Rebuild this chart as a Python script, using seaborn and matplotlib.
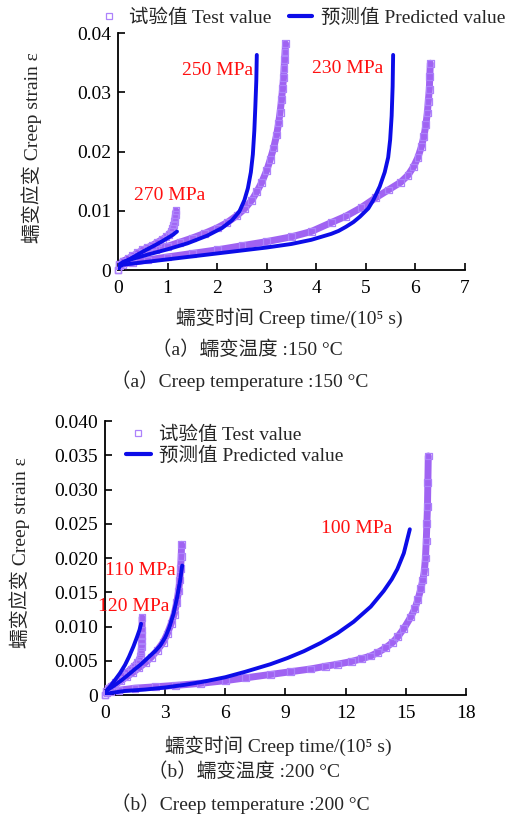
import matplotlib
matplotlib.use("Agg")
import matplotlib.pyplot as plt
from matplotlib.lines import Line2D
import seaborn as sns

# ---- data: 150 C (x in 1e5 s, creep strain) ----
t270_x = [0, 0.03, 0.1, 0.2, 0.3, 0.4, 0.5, 0.6, 0.7, 0.8, 0.9, 0.97, 1.03, 1.07, 1.1, 1.12, 1.14, 1.15, 1.16, 1.17]
t270_y = [0, 0.0009, 0.0014, 0.0019, 0.0024, 0.0029, 0.0034, 0.0038, 0.0042, 0.0047, 0.0052, 0.0056, 0.0060, 0.0065, 0.0070, 0.0076, 0.0082, 0.0088, 0.0094, 0.0100]
p270_x = [0, 0.03, 0.1, 0.25, 0.5, 0.75, 0.9, 1.0, 1.1, 1.19]
p270_y = [0, 0.0009, 0.0013, 0.0019, 0.0031, 0.0042, 0.0049, 0.0054, 0.0059, 0.0065]

t250_x = [0, 0.03, 0.1, 0.3, 0.5, 0.75, 1.0, 1.25, 1.5, 1.75, 2.0, 2.2, 2.4, 2.55, 2.7, 2.8, 2.9, 3.0, 3.07, 3.14,
          3.2, 3.24, 3.27, 3.3, 3.32, 3.34, 3.35, 3.36, 3.37, 3.38]
t250_y = [0, 0.001, 0.0015, 0.0022, 0.0028, 0.0034, 0.0040, 0.0047, 0.0054, 0.0062, 0.0071, 0.0080, 0.0092, 0.0103,
          0.0118, 0.0132, 0.0148, 0.0168, 0.0186, 0.0206, 0.0228, 0.0248, 0.0266, 0.0288, 0.0306, 0.0325, 0.034,
          0.0355, 0.0368, 0.0382]
p250_x = [0, 0.03, 0.1, 0.3, 0.6, 1.0, 1.4, 1.8, 2.1, 2.3, 2.45, 2.55, 2.62, 2.68, 2.72, 2.75, 2.77, 2.79, 2.8]
p250_y = [0, 0.0009, 0.0013, 0.0019, 0.0026, 0.0035, 0.0045, 0.0058, 0.0071, 0.0084, 0.0099, 0.0118, 0.0138, 0.0165,
          0.0195, 0.0235, 0.0275, 0.032, 0.0363]

t230_x = [0, 0.03, 0.1, 0.3, 0.6, 1.0, 1.5, 2.0, 2.5, 3.0, 3.5, 3.9, 4.3, 4.6, 4.9, 5.2, 5.45, 5.7, 5.85, 5.96,
          6.05, 6.12, 6.17, 6.21, 6.24, 6.26, 6.28, 6.29, 6.3]
t230_y = [0, 0.0007, 0.0010, 0.0013, 0.0017, 0.0022, 0.0028, 0.0034, 0.0041, 0.0048, 0.0056, 0.0065, 0.0080, 0.0091,
          0.0105, 0.0122, 0.0135, 0.0148, 0.016, 0.0174, 0.019, 0.0208, 0.0225, 0.0245, 0.0265, 0.0285, 0.0305,
          0.0327, 0.0349]
p230_x = [0, 0.03, 0.1, 0.3, 0.6, 1.0, 1.5, 2.0, 2.5, 3.0, 3.5, 3.9, 4.1, 4.3, 4.45, 4.6, 4.75, 4.88, 5.05, 5.15,
          5.28, 5.38, 5.45, 5.49, 5.52, 5.54, 5.55]
p230_y = [0, 0.0006, 0.0009, 0.0011, 0.0014, 0.0018, 0.0023, 0.0028, 0.0033, 0.0038, 0.0044, 0.0051, 0.0056, 0.0061,
          0.0066, 0.0073, 0.0081, 0.009, 0.0104, 0.0118, 0.0141, 0.0165, 0.019, 0.022, 0.026, 0.031, 0.0363]

# ---- data: 200 C ----
t120_x = [0, 0.05, 0.15, 0.3, 0.5, 0.7, 0.9, 1.1, 1.3, 1.45, 1.6, 1.7, 1.76, 1.8, 1.82, 1.83, 1.84, 1.85, 1.85]
t120_y = [0, 0.0005, 0.0009, 0.0013, 0.0018, 0.0023, 0.0028, 0.0033, 0.0038, 0.0042, 0.0047, 0.0051, 0.0056, 0.0063,
          0.0071, 0.0079, 0.0087, 0.0095, 0.0113]
p120_x = [0, 0.05, 0.15, 0.3, 0.5, 0.75, 1.0, 1.2, 1.42, 1.6, 1.72, 1.8]
p120_y = [0, 0.0005, 0.0009, 0.0014, 0.0022, 0.0032, 0.0044, 0.0056, 0.0071, 0.0085, 0.0095, 0.0104]

t110_x = [0, 0.05, 0.15, 0.3, 0.5, 0.8, 1.1, 1.4, 1.7, 2.0, 2.3, 2.6, 2.9, 3.1, 3.3, 3.45, 3.58, 3.67, 3.73, 3.77,
          3.8, 3.82]
t110_y = [0, 0.0005, 0.0008, 0.0011, 0.0015, 0.0021, 0.0027, 0.0033, 0.0040, 0.0047, 0.0055, 0.0065, 0.0077, 0.0089,
          0.0104, 0.0118, 0.0135, 0.0152, 0.0168, 0.0185, 0.0202, 0.0220]
p110_x = [0, 0.05, 0.15, 0.42, 0.8, 1.1, 1.42, 1.8, 2.2, 2.5, 2.75, 3.0, 3.2, 3.42, 3.6, 3.75, 3.85]
p110_y = [0, 0.0005, 0.0008, 0.0013, 0.0021, 0.0028, 0.0036, 0.0045, 0.0056, 0.0064, 0.0072, 0.0084, 0.0098, 0.0119,
          0.0143, 0.0168, 0.0189]

t100_x = [0, 0.1, 0.3, 0.7, 1.5, 2.5, 3.5, 4.75, 6.0, 7.0, 8.25, 9.25, 10.25, 11.0, 11.6, 12.3, 12.8, 13.25, 13.6,
          14.0, 14.35, 14.6, 14.9, 15.25, 15.45, 15.6, 15.75, 15.85, 15.92, 15.98, 16.02, 16.05, 16.08, 16.1, 16.12]
t100_y = [0, 0.0003, 0.0005, 0.0007, 0.0010, 0.0012, 0.0014, 0.0017, 0.0021, 0.0025, 0.0030, 0.0034, 0.0038, 0.0042,
          0.0045, 0.0049, 0.0053, 0.0057, 0.0062, 0.0069, 0.0077, 0.0085, 0.0097, 0.0114, 0.0126, 0.0139, 0.0155,
          0.0168, 0.0180, 0.020, 0.0225, 0.025, 0.0275, 0.031, 0.0349]
p100_x = [0, 0.05, 0.3, 1.0, 2.0, 3.0, 4.0, 5.0, 6.0, 7.0, 8.25, 9.1, 9.92, 10.75, 11.58, 12.4, 13.25, 13.9, 14.3,
          14.58, 14.9, 15.2]
p100_y = [0, 0.0001, 0.0003, 0.0006, 0.0008, 0.0011, 0.0015, 0.0020, 0.0026, 0.0034, 0.0045, 0.0054, 0.0064, 0.0076,
          0.0090, 0.0107, 0.0129, 0.0152, 0.0169, 0.0184, 0.0207, 0.0242]

# tick labels
top_xticks = [0, 1, 2, 3, 4, 5, 6, 7]
top_yticks = [0, 0.01, 0.02, 0.03, 0.04]
top_ylabels = ["0", "0.01", "0.02", "0.03", "0.04"]
bot_xticks = [0, 3, 6, 9, 12, 15, 18]
bot_yticks = [0, 0.005, 0.010, 0.015, 0.020, 0.025, 0.030, 0.035, 0.040]
bot_ylabels = ["0", "0.005", "0.010", "0.015", "0.020", "0.025", "0.030", "0.035", "0.040"]

BAND = "#8f48f0"
MARK = "#ad82fb"
BLUE = "#0c0ce8"
RED = "#ff1010"
FS = 14

sns.set_theme(style="ticks")
plt.rcParams["font.family"] = ["Liberation Serif", "Noto Sans CJK SC", "DejaVu Sans"]
plt.rcParams["axes.unicode_minus"] = False

fig = plt.figure(figsize=(5.06, 8.23), dpi=100)
ax1 = fig.add_axes([0.2332, 0.6719, 0.6858, 0.2880])
ax2 = fig.add_axes([0.2075, 0.1555, 0.7134, 0.3329])


def draw_test(ax, x, y):
    sns.lineplot(x=x, y=y, sort=False, estimator=None, color=BAND, lw=5, alpha=0.85, ax=ax, legend=False, zorder=2)
    sns.scatterplot(x=x, y=y, marker="s", s=24, facecolor="none", edgecolor=MARK, linewidth=0.9,
                    ax=ax, legend=False, zorder=3, clip_on=False)


def draw_pred(ax, x, y):
    sns.lineplot(x=x, y=y, sort=False, estimator=None, color=BLUE, lw=2.8, ax=ax, legend=False, zorder=4)


def style_axes(ax, xticks, yticks, ylabels):
    ax.set_xticks(xticks)
    ax.set_xticklabels([str(t) for t in xticks])
    ax.set_yticks(yticks)
    ax.set_yticklabels(ylabels)
    ax.set_xlim(xticks[0], xticks[-1])
    ax.set_ylim(yticks[0], yticks[-1])
    sns.despine(ax=ax)
    for s in ["left", "bottom"]:
        ax.spines[s].set_linewidth(1.3)
        ax.spines[s].set_color("black")
    ax.tick_params(direction="in", length=5, width=1.2, labelsize=FS, colors="black")
    ax.tick_params(axis="x", pad=7)
    ax.tick_params(axis="y", pad=5)


# top panel
for tx, ty in [(t270_x, t270_y), (t250_x, t250_y), (t230_x, t230_y)]:
    draw_test(ax1, tx, ty)
for px, py in [(p270_x, p270_y), (p250_x, p250_y), (p230_x, p230_y)]:
    draw_pred(ax1, px, py)
style_axes(ax1, top_xticks, top_yticks, top_ylabels)
ax1.text(2.0, 0.0336, "250 MPa", color=RED, fontsize=FS, ha="center", va="center")
ax1.text(4.64, 0.0340, "230 MPa", color=RED, fontsize=FS, ha="center", va="center")
ax1.text(1.04, 0.0125, "270 MPa", color=RED, fontsize=FS, ha="center", va="center")

# bottom panel
for tx, ty in [(t120_x, t120_y), (t110_x, t110_y), (t100_x, t100_y)]:
    draw_test(ax2, tx, ty)
for px, py in [(p120_x, p120_y), (p110_x, p110_y), (p100_x, p100_y)]:
    draw_pred(ax2, px, py)
style_axes(ax2, bot_xticks, bot_yticks, bot_ylabels)
ax2.text(12.56, 0.0243, "100 MPa", color=RED, fontsize=FS, ha="center", va="center", clip_on=False)
ax2.text(1.77, 0.01825, "110 MPa", color=RED, fontsize=FS, ha="center", va="center", clip_on=False)
ax2.text(1.42, 0.0129, "120 MPa", color=RED, fontsize=FS, ha="center", va="center", clip_on=False)

# legends
handles = [
    Line2D([], [], ls="", marker="s", ms=4.5, mfc="none", mec=MARK, mew=0.9),
    Line2D([], [], color=BLUE, lw=3),
]
labels = ["试验值 Test value", "预测值 Predicted value"]
fig.legend(handles, labels, loc="center", bbox_to_anchor=(0.595, 0.978), ncol=2, frameon=False,
           fontsize=FS, handlelength=1.2, handletextpad=0.45, columnspacing=0.9, borderpad=0)
ax2.legend(handles, labels, loc="upper left", bbox_to_anchor=(0.03, 1.02), frameon=False,
           fontsize=FS, handlelength=1.3, handletextpad=0.4, labelspacing=0.15, borderpad=0)


# axis labels and captions (positions in pixels of the 506x823 canvas)
def ypx(p):
    return 1 - p / 823.0


def xpx(p):
    return p / 506.0


ylab = "蠕变应变 Creep strain ε"
xlab = "蠕变时间 Creep time/(10⁵ s)"
fig.text(xpx(32), ypx(148), ylab, rotation=90, ha="center", va="center", fontsize=FS)
fig.text(xpx(289), ypx(318), xlab, ha="center", va="center", fontsize=FS)
fig.text(xpx(247), ypx(350), "（a）蠕变温度 :150 °C", ha="center", va="center", fontsize=FS)
fig.text(xpx(240), ypx(381), "（a）Creep temperature :150 °C", ha="center", va="center", fontsize=FS)

fig.text(xpx(20), ypx(553), ylab, rotation=90, ha="center", va="center", fontsize=FS)
fig.text(xpx(278), ypx(746), xlab, ha="center", va="center", fontsize=FS)
fig.text(xpx(244), ypx(772), "（b）蠕变温度 :200 °C", ha="center", va="center", fontsize=FS)
fig.text(xpx(240), ypx(804), "（b）Creep temperature :200 °C", ha="center", va="center", fontsize=FS)

fig.savefig("out.png", dpi=100, facecolor="white")
